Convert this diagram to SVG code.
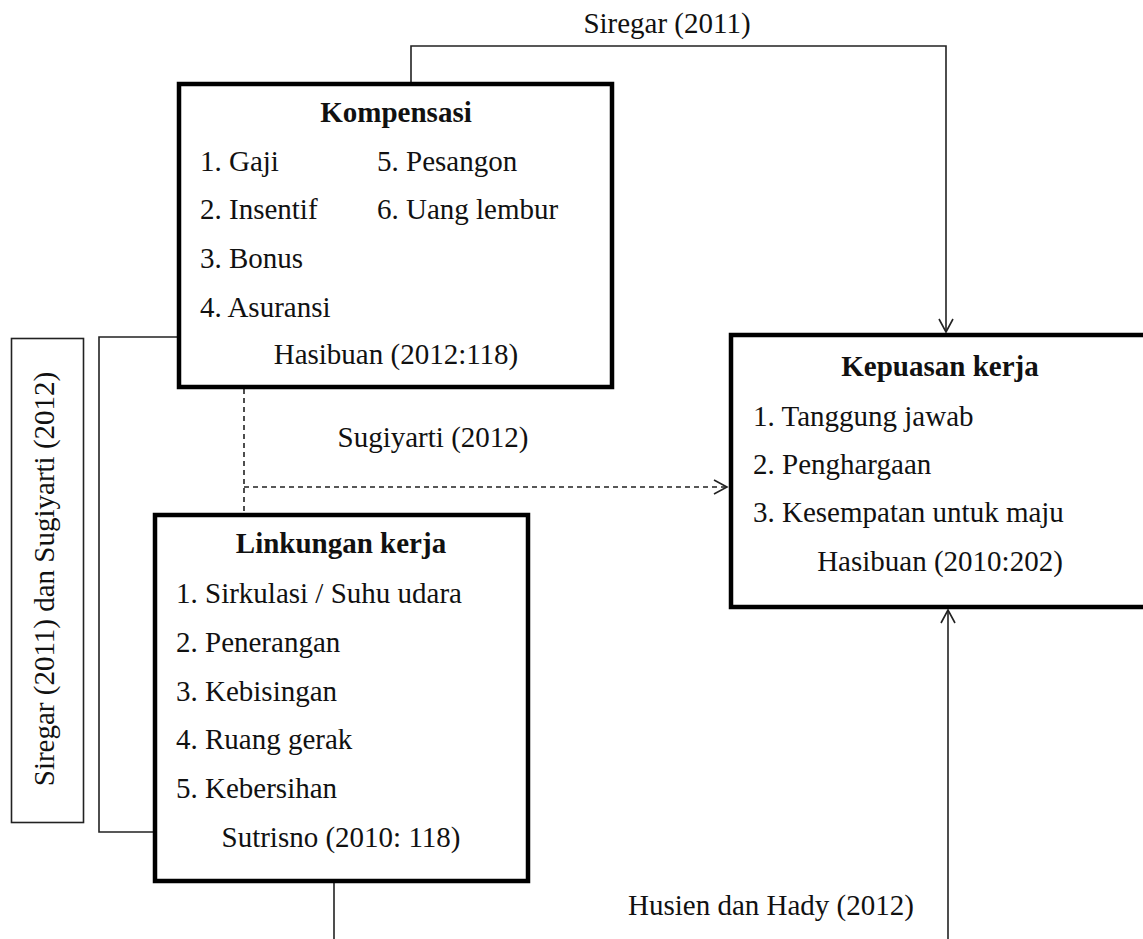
<svg xmlns="http://www.w3.org/2000/svg" width="1143" height="939" viewBox="0 0 1143 939">
<style>
text{font-family:"Liberation Serif","Times New Roman",serif;font-size:29px;fill:#111}
.b{font-weight:bold}
.m{text-anchor:middle}
.box{fill:#fff;stroke:#000;stroke-width:4.5}
.thin{fill:none;stroke:#222;stroke-width:1.6}
.dash{fill:none;stroke:#222;stroke-width:1.6;stroke-dasharray:5 4}
</style>
<defs>
<marker id="arr" markerUnits="userSpaceOnUse" markerWidth="20" markerHeight="20" refX="0" refY="0" viewBox="-14 -10 16 20" orient="auto">
<path d="M-13,-7 L0,0 L-13,7" fill="none" stroke="#222" stroke-width="1.6"/>
</marker>
</defs>
<g id="connectors">
<path class="thin" d="M411,82 V46 H946 V332" marker-end="url(#arr)"/>
<path class="thin" d="M948,939 V610" marker-end="url(#arr)"/>
<path class="thin" d="M178,337 H99 V832 H155"/>
<path class="dash" d="M244,389 V513"/>
<path class="dash" d="M244,487 H727" marker-end="url(#arr)"/>
<path class="thin" d="M334,883 V939"/>
<text class="m" x="667" y="33">Siregar (2011)</text>
<text class="m" x="433" y="447">Sugiyarti (2012)</text>
<text class="m" x="771" y="915">Husien dan Hady (2012)</text>
</g>
<g id="label-left">
<rect x="11.5" y="338.5" width="72" height="484" fill="#fff" stroke="#222" stroke-width="1.6"/>
<text class="m" transform="translate(54,579) rotate(-90)">Siregar (2011) dan Sugiyarti (2012)</text>
</g>
<g id="kompensasi">
<rect class="box" x="179" y="84" width="433" height="303"/>
<text class="b m" x="396" y="122">Kompensasi</text>
<text x="200" y="171">1. Gaji</text>
<text x="200" y="219">2. Insentif</text>
<text x="200" y="268">3. Bonus</text>
<text x="200" y="317">4. Asuransi</text>
<text x="377" y="171">5. Pesangon</text>
<text x="377" y="219">6. Uang lembur</text>
<text class="m" x="396" y="364">Hasibuan (2012:118)</text>
</g>
<g id="linkungan">
<rect class="box" x="155" y="515" width="373" height="366"/>
<text class="b m" x="341" y="553">Linkungan kerja</text>
<text x="176" y="603">1. Sirkulasi / Suhu udara</text>
<text x="176" y="652">2. Penerangan</text>
<text x="176" y="701">3. Kebisingan</text>
<text x="176" y="749">4. Ruang gerak</text>
<text x="176" y="798">5. Kebersihan</text>
<text class="m" x="341" y="847">Sutrisno (2010: 118)</text>
</g>
<g id="kepuasan">
<rect class="box" x="731" y="335" width="430" height="272"/>
<text class="b m" x="940" y="376">Kepuasan kerja</text>
<text x="753" y="426">1. Tanggung jawab</text>
<text x="753" y="474">2. Penghargaan</text>
<text x="753" y="522">3. Kesempatan untuk maju</text>
<text class="m" x="940" y="571">Hasibuan (2010:202)</text>
</g>
</svg>
